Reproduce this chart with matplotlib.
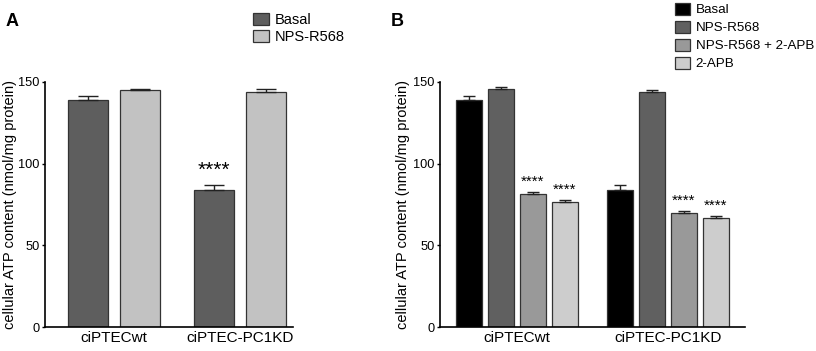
import numpy as np
import matplotlib
matplotlib.use("Agg")
import matplotlib.pyplot as plt

plt.rcParams['font.family'] = ['Liberation Sans', 'DejaVu Sans']

groups = ['ciPTECwt', 'ciPTEC-PC1KD']

# panel A
a_labels = ['Basal', 'NPS-R568']
a_mean = [[139, 84], [145, 144]]
a_err = [[2.5, 2.8], [1.0, 1.8]]
a_colors = ['#5e5e5e', '#c2c2c2']

# panel B
b_labels = ['Basal', 'NPS-R568', 'NPS-R568 + 2-APB', '2-APB']
b_mean = [[139, 84], [145.7, 143.6], [81.6, 70], [76.7, 66.7]]
b_err = [[2.2, 2.8], [1.0, 1.4], [1.0, 1.0], [1.0, 1.0]]
b_colors = ['#000000', '#606060', '#999999', '#cdcdcd']
b_stars = [[None, None], [None, None], ['****', '****'], ['****', '****']]

fig = plt.figure(figsize=(8.16, 3.51), dpi=100)
axA = fig.add_axes([45/816, 1-327/351, 248/816, 245/351])
axB = fig.add_axes([440/816, 1-327/351, 305/816, 245/351])

x = np.arange(len(groups))

def style(ax, xlim, labx):
    ax.set_ylim(0, 150)
    ax.set_xlim(*xlim)
    ax.set_yticks([0, 50, 100, 150])
    ax.set_xticks(x)
    ax.set_xticklabels(groups, fontsize=11)
    ax.tick_params(axis='y', labelsize=9.2, direction='out', length=2.5, width=1, pad=1.5)
    ax.tick_params(axis='x', length=0, pad=3)
    for s in ['top', 'right']:
        ax.spines[s].set_visible(False)
    for s in ['left', 'bottom']:
        ax.spines[s].set_linewidth(1.2)
    ax.set_ylabel('cellular ATP content (nmol/mg protein)', fontsize=10.5)
    ax.yaxis.set_label_coords(labx, 0.5)

# A
w = 0.317
offs = [-0.206, 0.206]
handles = []
for i in range(2):
    h = axA.bar(x + offs[i], a_mean[i], w, color=a_colors[i], edgecolor='#333333',
                linewidth=0.9, label=a_labels[i])
    axA.errorbar(x + offs[i], a_mean[i], yerr=[[0, 0], a_err[i]], fmt='none',
                 ecolor='#222222', elinewidth=1, capsize=7, capthick=1)
    handles.append(h)
axA.text(x[1] + offs[0], a_mean[0][1] + a_err[0][1] + 3, '****', ha='center',
         va='bottom', fontsize=15)
style(axA, (-0.548, 1.42), -0.112)
fig.legend(handles, a_labels, loc='upper left', bbox_to_anchor=(253/816, 1-13/351),
           frameon=False, fontsize=10.5, handlelength=1.1, handleheight=0.9,
           handletextpad=0.4, labelspacing=0.2, borderaxespad=0, borderpad=0)
fig.text(6/816, 1-22/351, 'A', fontsize=13, fontweight='bold', va='center')

# B
w = 0.166
offs = [-0.318, -0.106, 0.106, 0.318]
handles = []
for i in range(4):
    h = axB.bar(x + offs[i], b_mean[i], w, color=b_colors[i], edgecolor='#333333',
                linewidth=0.9, label=b_labels[i])
    axB.errorbar(x + offs[i], b_mean[i], yerr=[[0, 0], b_err[i]], fmt='none',
                 ecolor='#222222', elinewidth=1, capsize=4.5, capthick=1)
    handles.append(h)
    for j in range(2):
        if b_stars[i][j]:
            axB.text(x[j] + offs[i], b_mean[i][j] + b_err[i][j] + 2, b_stars[i][j],
                     ha='center', va='bottom', fontsize=11)
style(axB, (-0.51, 1.51), -0.099)
fig.legend(handles, b_labels, loc='upper left', bbox_to_anchor=(675/816, 1-3/351),
           frameon=False, fontsize=9.6, handlelength=1.15, handleheight=0.95,
           handletextpad=0.4, labelspacing=0.35, borderaxespad=0, borderpad=0)
fig.text(391/816, 1-22/351, 'B', fontsize=13, fontweight='bold', va='center')

fig.savefig('out.png', dpi=100)
